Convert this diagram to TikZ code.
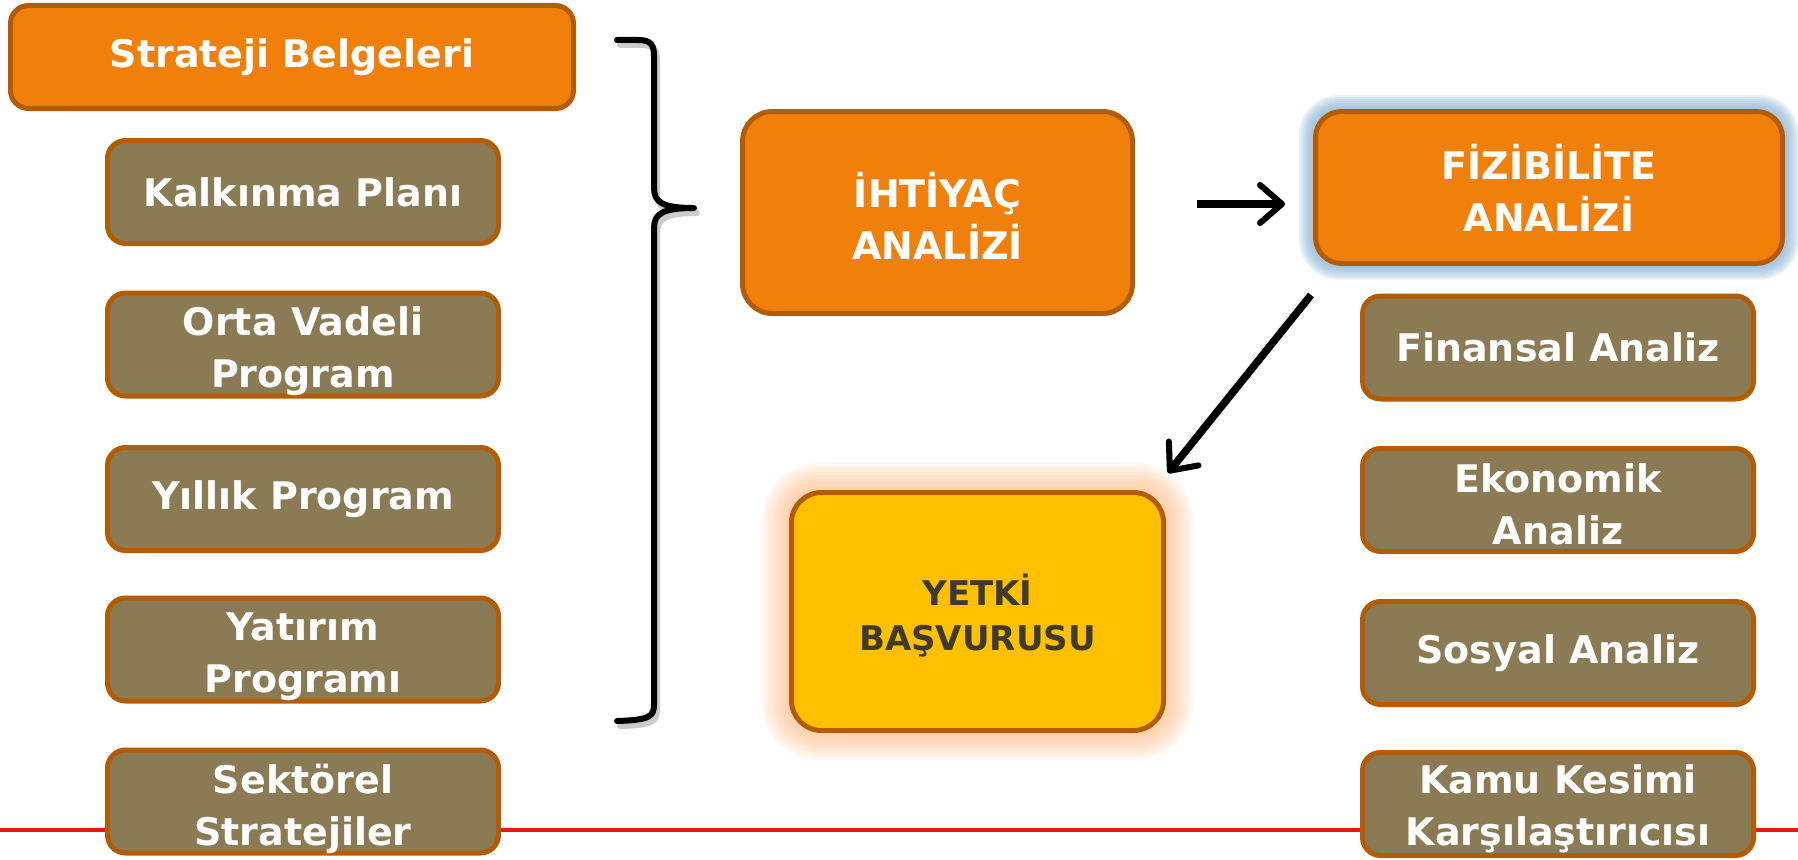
\documentclass[tikz,border=0pt]{standalone}
\usepackage{fontspec}
\setmainfont{DejaVu Sans}
\usetikzlibrary{arrows.meta,backgrounds}
\definecolor{orfill}{RGB}{240,128,10}
\definecolor{bord}{RGB}{179,92,4}
\definecolor{khfill}{RGB}{139,123,84}
\definecolor{yelfill}{RGB}{255,192,0}
\definecolor{yeltext}{RGB}{64,58,40}
\definecolor{redln}{RGB}{236,22,22}
\definecolor{blueglow}{RGB}{140,182,212}
\definecolor{orglow}{RGB}{251,185,130}
\begin{document}
\begin{tikzpicture}[x=1pt,y=-1pt,
  box/.style={draw=bord, line width=5pt, rounded corners=18pt, inner sep=0pt},
  txt/.style={align=center, text=white, font=\fontsize{38}{52}\selectfont\bfseries, inner sep=0pt},
  orbox/.style={box, fill=orfill},
  khbox/.style={box, fill=khfill, minimum width=391pt, minimum height=103pt},
  bigbox/.style={box, rounded corners=30pt},
  blk/.style={line width=6pt, line cap=round, line join=round},
  arr/.style={line width=7.5pt, line join=round,
    -{Straight Barb[length=22pt,width=38pt,line width=6pt,line cap=round,line join=round]}},
  shd/.style={draw=black!45, opacity=0.45}
]
\useasboundingbox (0,0) rectangle (1798,859);

% left column
\node[orbox, minimum width=563pt, minimum height=103pt] (strat) at (292,57) {};
\node[khbox] (kalk) at (303,192) {};
\node[khbox] (orta) at (303,344.5) {};
\node[khbox] (yillik) at (303,499) {};
\node[khbox] (yatirim) at (303,649.5) {};
\node[khbox] (sektor) at (303,801.5) {};
\node[txt] (stratT) at (strat.center) {Strateji Belgeleri};
\node[txt] (kalkT) at (kalk.center) {Kalkınma Planı};
\node[txt] (ortaT) at ([yshift=-7pt]orta.center) {Orta Vadeli\\Program};
\node[txt] (yillikT) at (yillik.center) {Yıllık Program};
\node[txt] (yatirimT) at ([yshift=-7pt]yatirim.center) {Yatırım\\Programı};
\node[txt] (sektorT) at ([yshift=-7pt]sektor.center) {Sektörel\\Stratejiler};

% center
\node[orbox, bigbox, minimum width=390pt, minimum height=202pt] (iht) at (937.5,212.5) {};
\node[orbox, bigbox, rounded corners=26pt, minimum width=467pt, minimum height=152pt] (fz) at (1549,187.5) {};
\node[box, bigbox, fill=yelfill, minimum width=372pt, minimum height=238pt] (yetki) at (977.5,611.5) {};
\node[txt] (ihtT) at ([yshift=-3pt]iht.center) {İHTİYAÇ\\ANALİZİ};
\node[txt] (fzT) at (fz.center) {FİZİBİLİTE\\ANALİZİ};
\node[txt, text=yeltext, font=\fontsize{34}{45}\selectfont\bfseries] (yetkiT) at ([yshift=-4pt]yetki.center) {YETKİ\\BAŞVURUSU};

% right column
\node[khbox] (fin) at (1558,347.5) {};
\node[khbox] (eko) at (1558,500) {};
\node[khbox] (sos) at (1558,653) {};
\node[khbox] (kamu) at (1558,804) {};
\node[txt] (finT) at (fin.center) {Finansal Analiz};
\node[txt] (ekoT) at ([yshift=-4pt]eko.center) {Ekonomik\\Analiz};
\node[txt] (sosT) at (sos.center) {Sosyal Analiz};
\node[txt] (kamuT) at ([yshift=-5pt]kamu.center) {Kamu Kesimi\\Karşılaştırıcısı};

% arrows
\coordinate (a1s) at (1197,204);
\coordinate (a1e) at (1285,204);
\coordinate (a2s) at (1311,295);
\coordinate (a2e) at (1168,473);
\begin{scope}[shift={(3,4)}]
  \draw[arr, shd] (a1s) -- (a1e);
  \draw[arr, shd] (a2s) -- (a2e);
\end{scope}
\draw[arr] (a1s) -- (a1e);
\draw[arr] (a2s) -- (a2e);

% brace
\begin{scope}[shift={(3,5)}]
\draw[blk, shd] (617,40) -- (638,40) .. controls (651,40) and (654,45) .. (654,56) -- (654,188)
  .. controls (654,202) and (662,208) .. (694,208)
  .. controls (662,208) and (654,214) .. (654,228) -- (654,704)
  .. controls (654,716) and (651,720) .. (617,721);
\end{scope}
\draw[blk] (617,40) -- (638,40) .. controls (651,40) and (654,45) .. (654,56) -- (654,188)
  .. controls (654,202) and (662,208) .. (694,208)
  .. controls (662,208) and (654,214) .. (654,228) -- (654,704)
  .. controls (654,716) and (651,720) .. (617,721);

\begin{scope}[on background layer]
  \coordinate (rl) at (0,830);
  \coordinate (rr) at (1798,830);
  \draw[redln, line width=4.5pt] (rl) -- (rr);
  \foreach \d in {2,4,...,14} {
    \pgfmathsetmacro\rr{26+\d}
    \fill[blueglow, opacity=0.18, rounded corners=\rr pt]
      ([shift={(-\d,-\d)}]fz.north west) rectangle ([shift={(\d,\d)}]fz.south east);
  }
  \foreach \d in {3,6,...,27} {
    \pgfmathsetmacro\rr{30+\d}
    \fill[orglow, opacity=0.10, rounded corners=\rr pt]
      ([shift={(-\d,-\d)}]yetki.north west) rectangle ([shift={(\d,\d)}]yetki.south east);
  }
\end{scope}
\end{tikzpicture}
\end{document}
